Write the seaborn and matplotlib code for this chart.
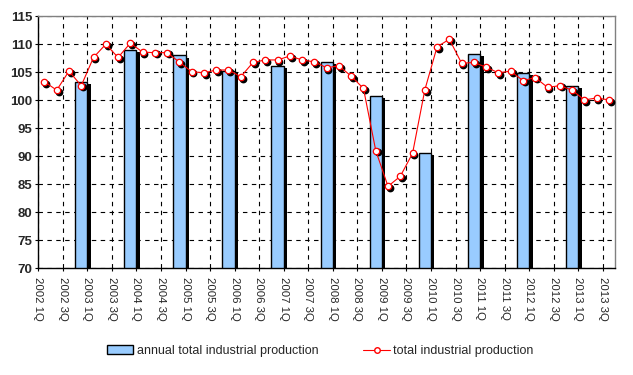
import numpy as np
import pandas as pd
import matplotlib
matplotlib.use("Agg")
import matplotlib.pyplot as plt
import matplotlib.patheffects as pe
from matplotlib.transforms import offset_copy
from matplotlib.patches import Patch
from matplotlib.lines import Line2D
import seaborn as sns

# quarter labels 2002 1Q .. 2013 3Q
quarters = [f"{y} {q}Q" for y in range(2002, 2014) for q in range(1, 5)][:47]

# quarterly total industrial production
quarterly = [103.3, 101.8, 105.2, 102.6, 107.65, 110.0, 107.65, 110.2,
             108.6, 108.5, 108.5, 106.8, 105.1, 104.9, 105.4, 105.4,
             104.2, 106.75, 107.2, 107.2, 107.9, 107.2, 106.85, 105.8,
             106.15, 104.3, 102.1, 91.0, 84.6, 86.4, 90.5, 101.85,
             109.55, 110.9, 106.6, 106.75, 105.9, 104.9, 105.2, 103.5,
             104.05, 102.3, 102.6, 101.8, 100.05, 100.4, 100.05]

# annual values, drawn at the 4th quarter of each year
years = list(range(2002, 2013))
annual = [103.2, 109.0, 108.0, 105.25, 106.2, 106.8, 100.7, 90.6, 108.2, 104.9, 102.6]

bar_label = "annual total industrial production"
line_label = "total industrial production"

sns.set_style("white")
plt.rcParams['font.family'] = ['Liberation Sans', 'DejaVu Sans']

fig = plt.figure(figsize=(6.33, 3.75), dpi=100)
ax = fig.add_axes([0.0605, 0.2853, 0.9111, 0.6712])

bars = pd.DataFrame({'quarter': [f"{y} 4Q" for y in years], 'value': annual})
sns.barplot(data=bars, x='quarter', y='value', order=quarters, width=1.0,
            color='#99CCFF', saturation=1, edgecolor='black', linewidth=1,
            ax=ax, zorder=2)
for p in ax.patches:
    p.set_path_effects([pe.SimplePatchShadow(offset=(2.5, -1.5), shadow_rgbFace='black', alpha=1),
                        pe.Normal()])

xq = np.arange(len(quarters))
# marker shadows
shadow_tr = offset_copy(ax.transData, fig=fig, x=1.8, y=-1.8, units='dots')
ax.plot(xq, quarterly, 'o', color='black', markersize=4.6, transform=shadow_tr, zorder=3)
sns.lineplot(x=xq, y=quarterly, color='red', linewidth=0.8, marker='o',
             markersize=4.6, markerfacecolor='white', markeredgecolor='red',
             markeredgewidth=0.9, ax=ax, zorder=4, legend=False)

ax.set_xlim(-0.5, 46.5)
ax.set_ylim(70, 115)
ax.set_yticks(np.arange(70, 116, 5))
ax.set_xticks(np.arange(-0.5, 46, 2))
ax.set_xticklabels(quarters[::2], rotation=-90, fontsize=8.2, va='top', ha='center')
for t in ax.get_yticklabels():
    t.set_fontweight('bold')
    t.set_fontsize(9.5)
ax.set_xlabel('')
ax.set_ylabel('')

ax.set_axisbelow(True)
ax.grid(True, color='black', linestyle=(0, (4, 4)), linewidth=0.8)
ax.tick_params(axis='both', direction='out', length=2.5, width=0.8, color='black',
               bottom=True, left=True, pad=2)
ax.tick_params(axis='x', pad=4)
for s in ['left', 'bottom']:
    ax.spines[s].set_color('black')
    ax.spines[s].set_linewidth(1)
for s in ['top', 'right']:
    ax.spines[s].set_color('#808080')
    ax.spines[s].set_linewidth(1)

handles = [Patch(facecolor='#99CCFF', edgecolor='black', linewidth=1),
           Line2D([], [], color='red', linewidth=0.8, marker='o', markersize=4,
                  markerfacecolor='white', markeredgecolor='red')]
fig.legend(handles, [bar_label, line_label], loc='center', bbox_to_anchor=(0.506, 0.064),
           ncol=2, frameon=False, fontsize=9, handlelength=2.1, handletextpad=0.3,
           columnspacing=3.6)

fig.savefig('out.png', dpi=100)
